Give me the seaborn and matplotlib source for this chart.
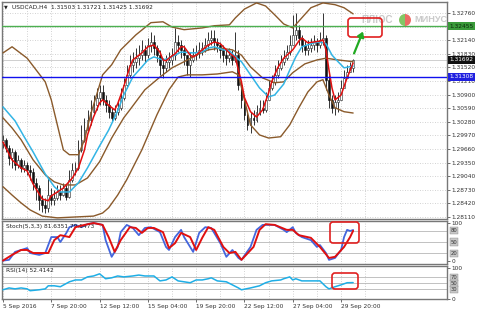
import matplotlib
matplotlib.use("Agg")
import matplotlib.pyplot as plt
import matplotlib.transforms as mtransforms
from matplotlib.patches import FancyBboxPatch, FancyArrowPatch, Wedge
import numpy as np
import pandas as pd
import seaborn as sns

# ---------------- data ----------------
symbol_header = "USDCAD,H4  1.31503 1.31721 1.31425 1.31692"
stoch_header = "Stoch(5,3,3) 81.6351 79.5473"
rsi_header = "RSI(14) 52.4142"

first_open = 1.2982
closes = [1.2987, 1.2969, 1.2946, 1.2959, 1.2930, 1.2941, 1.2923, 1.2930, 1.2918, 1.2914,
          1.2889, 1.2877, 1.2850, 1.2839, 1.2832, 1.2861, 1.2850, 1.2855, 1.2868, 1.2861,
          1.2877, 1.2857, 1.2896, 1.2918, 1.2923, 1.2964, 1.2987, 1.3009, 1.3032, 1.3051,
          1.3066, 1.3083, 1.3096, 1.3078, 1.3066, 1.3051, 1.3037, 1.3051, 1.3060, 1.3083,
          1.3112, 1.3135, 1.3158, 1.3165, 1.3173, 1.3180, 1.3192, 1.3180, 1.3203, 1.3210,
          1.3196, 1.3180, 1.3158, 1.3151, 1.3165, 1.3169, 1.3180, 1.3210, 1.3203, 1.3192,
          1.3180, 1.3158, 1.3169, 1.3180, 1.3187, 1.3192, 1.3196, 1.3203, 1.3215, 1.3219,
          1.3210, 1.3203, 1.3192, 1.3180, 1.3173, 1.3180, 1.3169, 1.3180, 1.3112, 1.3078,
          1.3044, 1.3021, 1.3037, 1.3032, 1.3051, 1.3060, 1.3055, 1.3078, 1.3105, 1.3119,
          1.3135, 1.3151, 1.3165, 1.3173, 1.3187, 1.3203, 1.3226, 1.3238, 1.3219, 1.3203,
          1.3192, 1.3196, 1.3203, 1.3210, 1.3203, 1.3215, 1.3219, 1.3124, 1.3078, 1.3060,
          1.3074, 1.3078, 1.3105, 1.3128, 1.3142, 1.31503, 1.31692]
highs = [1.2998, 1.2991, 1.2975, 1.2969, 1.2964, 1.2953, 1.2946, 1.2941, 1.2937, 1.2930,
         1.2923, 1.2900, 1.2884, 1.2861, 1.2855, 1.2900, 1.2877, 1.2873, 1.2884, 1.2884,
         1.2889, 1.2884, 1.2918, 1.2934, 1.2937, 1.2987, 1.3021, 1.3037, 1.3055, 1.3078,
         1.3089, 1.3105, 1.3112, 1.3112, 1.3089, 1.3078, 1.3060, 1.3066, 1.3078, 1.3105,
         1.3128, 1.3158, 1.3180, 1.3187, 1.3196, 1.3203, 1.3215, 1.3203, 1.3219, 1.3233,
         1.3226, 1.3203, 1.3192, 1.3173, 1.3180, 1.3187, 1.3196, 1.3242, 1.3226, 1.3215,
         1.3203, 1.3180, 1.3187, 1.3196, 1.3203, 1.3210, 1.3210, 1.3219, 1.3233, 1.3238,
         1.3238, 1.3219, 1.3210, 1.3203, 1.3192, 1.3196, 1.3192, 1.3233, 1.3192, 1.3119,
         1.3089, 1.3055, 1.3051, 1.3055, 1.3066, 1.3078, 1.3078, 1.3096, 1.3124, 1.3135,
         1.3158, 1.3169, 1.3180, 1.3192, 1.3203, 1.3226, 1.3272, 1.3276, 1.3249, 1.3226,
         1.3215, 1.3215, 1.3219, 1.3226, 1.3219, 1.3233, 1.3276, 1.3226, 1.3135, 1.3089,
         1.3089, 1.3096, 1.3124, 1.3146, 1.3158, 1.3165, 1.31721]
lows = [1.2969, 1.2959, 1.2930, 1.2923, 1.2918, 1.2923, 1.2914, 1.2914, 1.2907, 1.2896,
        1.2873, 1.2850, 1.2827, 1.2822, 1.2820, 1.2822, 1.2839, 1.2839, 1.2850, 1.2850,
        1.2859, 1.2850, 1.2855, 1.2891, 1.2907, 1.2918, 1.2959, 1.2982, 1.3005, 1.3021,
        1.3044, 1.3055, 1.3066, 1.3066, 1.3051, 1.3037, 1.3028, 1.3032, 1.3044, 1.3055,
        1.3078, 1.3105, 1.3128, 1.3142, 1.3151, 1.3158, 1.3169, 1.3165, 1.3173, 1.3187,
        1.3180, 1.3165, 1.3135, 1.3128, 1.3142, 1.3151, 1.3158, 1.3169, 1.3187, 1.3173,
        1.3158, 1.3135, 1.3130, 1.3165, 1.3169, 1.3173, 1.3180, 1.3187, 1.3192, 1.3203,
        1.3192, 1.3187, 1.3173, 1.3165, 1.3158, 1.3165, 1.3158, 1.3165, 1.3101, 1.3060,
        1.3032, 1.3009, 1.3003, 1.3021, 1.3028, 1.3044, 1.3048, 1.3051, 1.3078, 1.3101,
        1.3112, 1.3128, 1.3146, 1.3158, 1.3169, 1.3180, 1.3203, 1.3215, 1.3203, 1.3187,
        1.3180, 1.3180, 1.3187, 1.3192, 1.3187, 1.3196, 1.3203, 1.3101, 1.3060, 1.3048,
        1.3044, 1.3051, 1.3078, 1.3112, 1.3128, 1.3142, 1.31425]

fast_ma_bars = [0, 3, 6, 8, 10, 13, 15, 16, 18, 20, 23, 25, 27, 28, 30, 32, 33, 35, 37, 38,
                40, 42, 43, 46, 48, 50, 52, 53, 54, 55, 57, 59, 60, 62, 63, 64, 66, 68, 70, 72,
                73, 75, 77, 78, 79, 80, 82, 84, 86, 88, 89, 91, 93, 96, 98, 99, 101, 103, 105, 106,
                107, 108, 109, 110, 112, 114, 116]
fast_ma_vals = [1.2982, 1.2941, 1.2923, 1.2916, 1.2886, 1.2852, 1.2848, 1.2859, 1.2868, 1.2877,
                1.2900, 1.2923, 1.2964, 1.2998, 1.3039, 1.3071, 1.3078, 1.3066, 1.3055, 1.3069,
                1.3108, 1.3153, 1.3169, 1.3185, 1.3199, 1.3203, 1.3187, 1.3169, 1.3167, 1.3173,
                1.3183, 1.3199, 1.3199, 1.3180, 1.3176, 1.3180, 1.3192, 1.3203, 1.3210, 1.3206,
                1.3199, 1.3185, 1.3174, 1.3146, 1.3119, 1.3083, 1.3051, 1.3039, 1.3055, 1.3094,
                1.3119, 1.3151, 1.3173, 1.3192, 1.3212, 1.3219, 1.3208, 1.3210, 1.3212, 1.3215,
                1.3192, 1.3146, 1.3105, 1.3078, 1.3089, 1.3128, 1.3162]

slow_ma_bars = [0, 4, 7, 10, 14, 17, 19, 22, 25, 28, 32, 35, 38, 40, 43, 46, 48, 50, 53, 55,
                57, 59, 63, 66, 68, 70, 73, 75, 77, 79, 82, 85, 88, 90, 93, 95, 97, 99, 103, 105,
                107, 109, 111, 113, 116]
slow_ma_vals = [1.3062, 1.3030, 1.2994, 1.2959, 1.2909, 1.2880, 1.2868, 1.2868, 1.2889, 1.2923,
                1.2973, 1.3009, 1.3053, 1.3089, 1.3130, 1.3153, 1.3169, 1.3176, 1.3169, 1.3173,
                1.3180, 1.3187, 1.3185, 1.3187, 1.3196, 1.3199, 1.3192, 1.3190, 1.3176, 1.3165,
                1.3135, 1.3105, 1.3085, 1.3089, 1.3114, 1.3146, 1.3176, 1.3199, 1.3208, 1.3210,
                1.3206, 1.3180, 1.3165, 1.3151, 1.3155]

bb_upper_bars = [0, 3, 8, 14, 16, 18, 20, 22, 25, 27, 29, 31, 33, 36, 39, 44, 49, 53, 56, 60,
                 66, 70, 75, 77, 80, 84, 87, 90, 93, 96, 99, 102, 106, 110, 113, 116]
bb_upper_vals = [1.3185, 1.3199, 1.3173, 1.3119, 1.3078, 1.3021, 1.2964, 1.2953, 1.2953, 1.2987,
                 1.3044, 1.3089, 1.3135, 1.3158, 1.3192, 1.3226, 1.3254, 1.3256, 1.3244, 1.3238,
                 1.3242, 1.3247, 1.3249, 1.3265, 1.3285, 1.3299, 1.3292, 1.3272, 1.3251, 1.3242,
                 1.3265, 1.3288, 1.3299, 1.3295, 1.3288, 1.3274]
bb_mid_bars = [0, 3, 6, 10, 14, 17, 20, 24, 28, 32, 36, 40, 42, 47, 52, 56, 60, 64, 68, 72,
               76, 79, 82, 86, 90, 93, 96, 100, 104, 107, 111, 116]
bb_mid_vals = [1.3037, 1.3014, 1.2987, 1.2941, 1.2907, 1.2891, 1.2884, 1.2884, 1.2900, 1.2937,
               1.2991, 1.3037, 1.3055, 1.3101, 1.3130, 1.3151, 1.3165, 1.3180, 1.3192, 1.3196,
               1.3192, 1.3180, 1.3153, 1.3128, 1.3117, 1.3119, 1.3140, 1.3160, 1.3169, 1.3173,
               1.3169, 1.3165]
bb_lower_bars = [0, 3, 6, 9, 13, 18, 24, 30, 33, 35, 38, 41, 46, 51, 55, 58, 61, 66, 71, 76,
                 78, 80, 82, 85, 88, 92, 95, 98, 101, 104, 106, 108, 110, 113, 116]
bb_lower_vals = [1.2880, 1.2861, 1.2843, 1.2827, 1.2813, 1.2809, 1.2811, 1.2813, 1.2820, 1.2832,
                 1.2861, 1.2896, 1.2964, 1.3044, 1.3101, 1.3130, 1.3135, 1.3135, 1.3137, 1.3142,
                 1.3135, 1.3078, 1.3021, 1.2998, 1.2991, 1.2994, 1.3021, 1.3060, 1.3096, 1.3119,
                 1.3124, 1.3089, 1.3060, 1.3051, 1.3048]

stoch_k_bars = [0, 2, 4, 6, 8, 9, 12, 14, 16, 18, 19, 21, 22, 24, 26, 28, 30, 33, 34, 36,
                38, 39, 41, 43, 45, 47, 49, 52, 54, 55, 57, 59, 60, 63, 65, 67, 69, 72, 74, 76,
                78, 79, 82, 84, 86, 88, 90, 93, 94, 96, 97, 99, 102, 104, 105, 107, 108, 110, 112, 113,
                114, 115, 116]
stoch_k_vals = [1, 3, 24, 29, 34, 21, 16, 21, 63, 63, 50, 74, 89, 95, 89, 97, 100, 95, 55, 11,
                37, 76, 95, 87, 68, 87, 89, 76, 37, 29, 63, 82, 63, 24, 74, 89, 87, 47, 11, 29,
                8, 3, 37, 82, 95, 95, 95, 82, 76, 89, 74, 63, 55, 37, 42, 21, 3, 8, 29, 63,
                82, 79, 81.6]
stoch_d_bars = [0, 3, 6, 8, 10, 13, 15, 17, 19, 22, 24, 27, 30, 33, 35, 37, 39, 42, 44, 46,
                48, 50, 53, 55, 57, 59, 62, 64, 66, 68, 70, 73, 75, 77, 79, 83, 85, 87, 90, 94,
                96, 98, 102, 105, 108, 110, 113, 115, 116]
stoch_d_vals = [1, 16, 29, 29, 21, 21, 21, 55, 68, 63, 89, 95, 100, 95, 63, 24, 55, 89, 87, 74,
                87, 87, 76, 34, 47, 74, 63, 29, 61, 89, 82, 37, 21, 24, 3, 37, 82, 97, 95, 82,
                82, 68, 61, 37, 8, 11, 37, 63, 79.5]

rsi_bars = [0, 2, 4, 6, 8, 9, 12, 14, 15, 17, 19, 22, 24, 26, 28, 30, 32, 34, 36, 38,
            40, 43, 45, 47, 50, 52, 54, 56, 58, 62, 64, 66, 68, 69, 71, 74, 76, 78, 79, 82,
            85, 87, 89, 92, 93, 95, 96, 97, 99, 102, 105, 107, 108, 110, 112, 114, 116]
rsi_vals = [29, 35, 32, 35, 32, 26, 29, 32, 42, 42, 39, 55, 61, 61, 71, 74, 81, 65, 68, 74,
            71, 74, 77, 74, 74, 58, 61, 71, 58, 52, 61, 61, 65, 68, 58, 55, 45, 35, 29, 35,
            42, 52, 58, 61, 65, 71, 61, 65, 58, 58, 58, 39, 32, 39, 45, 52, 52.4]

price_ticks = [1.28110, 1.28420, 1.28730, 1.29040, 1.29350, 1.29660, 1.29970, 1.30280,
               1.30590, 1.30900, 1.31210, 1.31520, 1.31830, 1.32140, 1.32450, 1.32760]
resistance_level = 1.32455
support_level = 1.31308
last_price = 1.31692
stoch_levels = [80, 50, 20]
rsi_levels = [70, 50, 30]
time_label_bars = [0, 16, 32, 48, 64, 80, 96, 112]
time_labels = ["5 Sep 2016", "7 Sep 20:00", "12 Sep 12:00", "15 Sep 04:00",
               "19 Sep 20:00", "22 Sep 12:00", "27 Sep 04:00", "29 Sep 20:00"]

# ---------------- figure ----------------
sns.set_theme(style="white")
plt.rcParams['font.family'] = ['DejaVu Sans']

W, H = 480, 310
fig = plt.figure(figsize=(W / 100, H / 100), dpi=100)
fig.patch.set_facecolor("white")


def rect(x0, y0, x1, y1):
    return [x0 / W, 1 - y1 / H, (x1 - x0) / W, (y1 - y0) / H]


ax = fig.add_axes(rect(2, 2, 447, 219))
axs = fig.add_axes(rect(2, 221, 447, 264))
axr = fig.add_axes(rect(2, 266, 447, 299))

FS = 4.2
GRID = dict(color="#c4c4c4", linestyle=(0, (1, 2)), linewidth=0.6)
XL = (-0.33, 147.1)

bars = np.arange(len(closes))
opens = [first_open] + closes[:-1]
df = pd.DataFrame({"bar": bars, "open": opens, "high": highs, "low": lows, "close": closes})

for a in (ax, axs, axr):
    a.set_facecolor("white")
    a.set_xlim(*XL)
    a.set_xticks(time_label_bars)
    a.set_xticks([b + 8 for b in time_label_bars], minor=True)
    a.grid(True, which="both", axis="x", **GRID)
    for s in a.spines.values():
        s.set_color("#777777")
        s.set_linewidth(1.0)
    a.yaxis.tick_right()
    a.tick_params(axis="y", which="both", right=True, left=False, length=2, width=0.5,
                  pad=1.5, labelsize=FS, colors="#333333")
    a.tick_params(axis="x", which="both", bottom=False, labelbottom=False)

# ---- main price panel ----
ax.set_ylim(1.28064, 1.33011)
ax.set_yticks(price_ticks)
# the tick label next to the resistance level is hidden by its price box
ax.set_yticklabels(["" if abs(p - resistance_level) < 0.0002 else f"{p:.5f}"
                    for p in price_ticks])
ax.grid(True, axis="y", **GRID)

up = df["close"] >= df["open"]
ax.vlines(df["bar"], df["low"], df["high"], color="#333333", linewidth=0.7, zorder=2)
body_lo = np.minimum(df["open"], df["close"])
body_h = np.abs(df["close"] - df["open"]).clip(lower=0.00005)
ax.bar(df["bar"][up], body_h[up], bottom=body_lo[up], width=0.62, color="white",
       edgecolor="#222222", linewidth=0.4, zorder=3)
ax.bar(df["bar"][~up], body_h[~up], bottom=body_lo[~up], width=0.62, color="#111111",
       edgecolor="#111111", linewidth=0.4, zorder=3)

brown = "#8a5a2b"
for bx, bv in ((bb_upper_bars, bb_upper_vals), (bb_mid_bars, bb_mid_vals),
               (bb_lower_bars, bb_lower_vals)):
    sns.lineplot(x=bx, y=bv, ax=ax, color=brown, linewidth=1.0, sort=False,
                 estimator=None, zorder=4)
sns.lineplot(x=slow_ma_bars, y=slow_ma_vals, ax=ax, color="#33b5e5", linewidth=1.1,
             sort=False, estimator=None, zorder=5)
sns.lineplot(x=fast_ma_bars, y=fast_ma_vals, ax=ax, color="#e01010", linewidth=1.1,
             sort=False, estimator=None, zorder=6)

ax.axhline(resistance_level, color="#4caf50", linewidth=1.0, zorder=7)
ax.axhline(support_level, color="#1010ee", linewidth=1.0, zorder=7)
ax.axhline(last_price, color="#c8c8c8", linewidth=0.6, zorder=1)

tr = mtransforms.blended_transform_factory(ax.transAxes, ax.transData)
for val, fc, tc in ((resistance_level, "#3a9a3a", "#0b2a0b"),
                    (last_price, "#111111", "white"),
                    (support_level, "#2020e0", "white")):
    ax.text(1.006, val, f"{val:.5f}", transform=tr, ha="left", va="center", fontsize=FS,
            color=tc, clip_on=False, zorder=10,
            bbox=dict(boxstyle="square,pad=0.25", fc=fc, ec="none"))

ax.set_xlabel("")
ax.set_ylabel("")
fig.text(4 / W, 1 - 7 / H, "\u25BC", fontsize=3.5, color="#222222", va="center")
fig.text(12 / W, 1 - 7 / H, symbol_header, fontsize=FS, color="#222222", va="center")

# ---- stochastic panel ----
axs.set_ylim(-7.9, 105.3)
axs.set_yticks([100, 0])
axs.set_yticklabels(["100", "0"])
for lv in stoch_levels:
    axs.axhline(lv, color="#a8a8a8", linewidth=0.5, zorder=1)
sns.lineplot(x=stoch_k_bars, y=stoch_k_vals, ax=axs, color="#4466dd", linewidth=1.3,
             sort=False, estimator=None, zorder=3)
sns.lineplot(x=stoch_d_bars, y=stoch_d_vals, ax=axs, color="#e01010", linewidth=1.4,
             sort=False, estimator=None, zorder=4)
trs = mtransforms.blended_transform_factory(axs.transAxes, axs.transData)
for lv in stoch_levels:
    axs.text(1.008, lv, str(lv), transform=trs, ha="left", va="center", fontsize=FS - 0.4,
             color="#333333", clip_on=False,
             bbox=dict(boxstyle="square,pad=0.2", fc="#c8c8c8", ec="#888888", lw=0.3))
axs.set_xlabel("")
axs.set_ylabel("")
axs.text(0.01, 0.93, stoch_header, transform=axs.transAxes, fontsize=FS, color="#222222",
         va="top", ha="left")

# ---- RSI panel ----
axr.set_ylim(-1, 106.5)
axr.set_yticks([100, 0])
axr.set_yticklabels(["100", "0"])
for lv in rsi_levels:
    axr.axhline(lv, color="#a8a8a8", linewidth=0.5, zorder=1)
sns.lineplot(x=rsi_bars, y=rsi_vals, ax=axr, color="#1eaee6", linewidth=1.1,
             sort=False, estimator=None, zorder=3)
trr = mtransforms.blended_transform_factory(axr.transAxes, axr.transData)
for lv in rsi_levels:
    axr.text(1.008, lv, str(lv), transform=trr, ha="left", va="center", fontsize=FS - 0.4,
             color="#333333", clip_on=False,
             bbox=dict(boxstyle="square,pad=0.2", fc="#c8c8c8", ec="#888888", lw=0.3))
axr.set_xlabel("")
axr.set_ylabel("")
axr.text(0.01, 0.93, rsi_header, transform=axr.transAxes, fontsize=FS, color="#222222",
         va="top", ha="left")

# time axis
axr.tick_params(axis="x", which="major", bottom=True, labelbottom=True, length=2.5,
                width=0.5, pad=1.2, labelsize=FS, colors="#333333")
axr.set_xticklabels(time_labels)
for lab in axr.get_xticklabels():
    lab.set_ha("left")

# ---------------- annotations in pixel space ----------------
def rbox(x0, y0, x1, y1):
    p = FancyBboxPatch((x0, H - y1), x1 - x0, y1 - y0, boxstyle="round,pad=0,rounding_size=3",
                       fc="none", ec="#e02020", lw=1.2, transform=None, zorder=20)
    fig.add_artist(p)


rbox(348, 18, 382, 37)
rbox(330, 222, 359, 243)
rbox(332, 273, 358, 289)

arrow = FancyArrowPatch((353, H - 56), (364, H - 29), arrowstyle="-|>,head_length=3,head_width=2",
                        color="#22aa22", lw=1.6, transform=None, zorder=20)
fig.add_artist(arrow)

# watermark
wm_font = ["Liberation Sans Narrow", "Liberation Sans", "DejaVu Sans"]
fig.text(361 / W, 1 - 20 / H, "ПЛЮС", fontsize=7.2, family=wm_font, weight="bold",
         color="#bdbdbd", alpha=0.8, va="center", ha="left", zorder=15)
fig.text(414 / W, 1 - 20 / H, "МИНУС", fontsize=6.6, family=wm_font, weight="bold",
         color="#bdbdbd", alpha=0.8, va="center", ha="left", zorder=15)
fig.add_artist(Wedge((405, H - 20), 6.0, 90, 270, fc="#6cbf4a", ec="none", alpha=0.85,
                     transform=None, zorder=15))
fig.add_artist(Wedge((405, H - 20), 6.0, 270, 90, fc="#e8524a", ec="none", alpha=0.85,
                     transform=None, zorder=15))

fig.savefig("out.png", dpi=100, facecolor="white")
